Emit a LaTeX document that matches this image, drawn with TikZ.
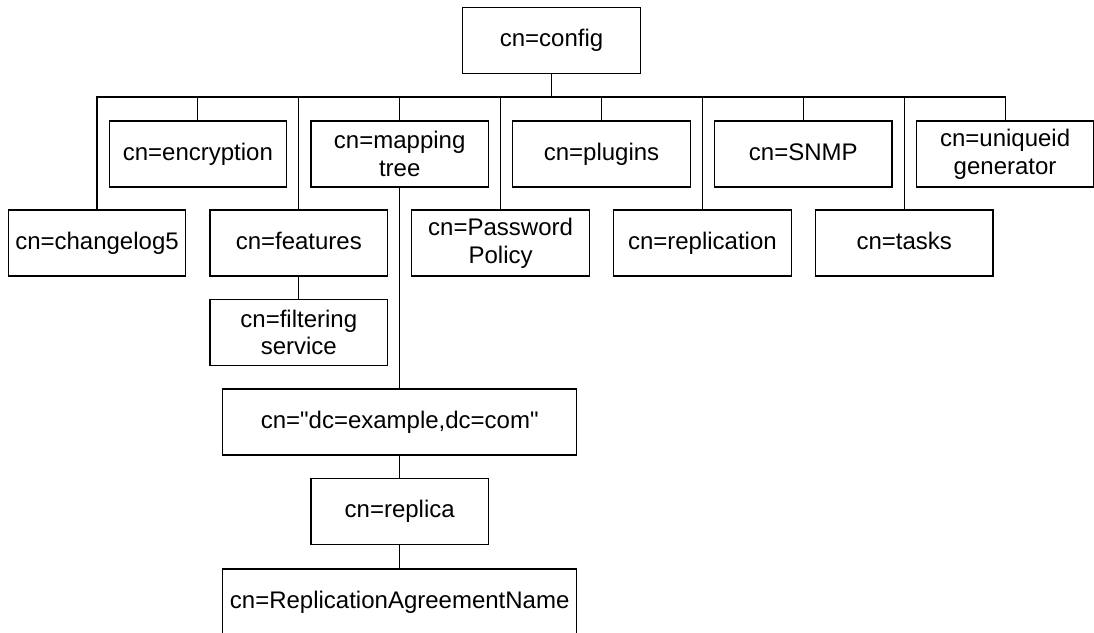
\documentclass[tikz,border=0pt]{standalone}
\usepackage{fontspec}
\setmainfont{Liberation Sans}[Ligatures=TeXOff]
\begin{document}
\begin{tikzpicture}[x=1pt,y=-1pt,
  entry/.style={draw, line width=1.15pt, minimum width=177.5pt, minimum height=66pt,
    inner sep=0pt, align=center, font=\fontsize{24}{27.6}\selectfont},
  oneline/.style={entry, text height=17.5pt, text depth=5pt},
  wide/.style={oneline, minimum width=354pt},
  link/.style={line width=1.15pt, line cap=rect}]
\useasboundingbox (0,0) rectangle (1094,632);

% root entry
\node[oneline] (config) at (551.5,40.3) {cn=config};

% children of cn=config, alternating between two rows
\node[oneline] (changelog)   at (97.0,243)   {cn=changelog5};
\node[oneline] (encryption)  at (197.9,154)  {cn=encryption};
\node[oneline] (features)    at (298.8,243)  {cn=features};
\node[entry]   (mapping)     at (399.7,154)  {cn=mapping\\tree};
\node[entry]   (password)    at (500.6,243)  {cn=Password\\Policy};
\node[oneline] (plugins)     at (601.5,154)  {cn=plugins};
\node[oneline] (replication) at (702.4,243)  {cn=replication};
\node[oneline] (snmp)        at (803.3,154)  {cn=SNMP};
\node[oneline] (tasks)       at (904.2,243)  {cn=tasks};
\node[entry]   (uniqueid)    at (1005.1,154) {cn=uniqueid\\generator};

% deeper entries
\node[entry]   (filtering) at (298.8,332.5) {cn=filtering\\service};
\node[wide]    (suffix)    at (399.7,422)   {cn="dc=example,dc=com"};
\node[oneline] (replica)   at (399.7,511.5) {cn=replica};
\node[wide]    (agreement) at (399.7,602)   {cn=ReplicationAgreementName};

% horizontal bus below the root
\coordinate (bus) at (551.5,97);
\draw[link] (changelog.north |- bus) -- (uniqueid.north |- bus);
\draw[link] (config.south) -- (bus);
\foreach \c in {changelog,encryption,features,mapping,password,plugins,replication,snmp,tasks,uniqueid}
  \draw[link] (\c.north |- bus) -- (\c.north);

% subtree links
\draw[link] (features.south) -- (filtering.north);
\draw[link] (mapping.south) -- (suffix.north);
\draw[link] (suffix.south) -- (replica.north);
\draw[link] (replica.south) -- (agreement.north);
\end{tikzpicture}
\end{document}
